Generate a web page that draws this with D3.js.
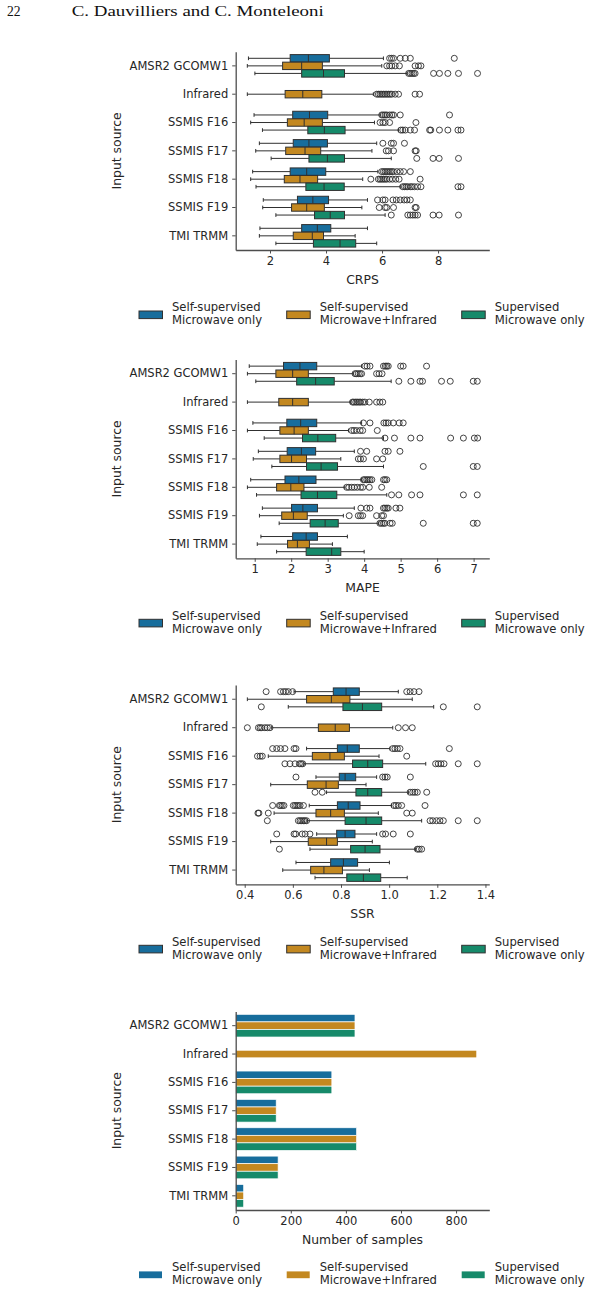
<!DOCTYPE html>
<html><head><meta charset="utf-8">
<script src="https://cdn.jsdelivr.net/npm/d3@7"></script>
<style>body{margin:0;background:#fff}svg{display:block}</style>
</head><body>
<svg id="c" width="592" height="1293"></svg>
<script>
// ---------------- DATA ----------------
const categories = ["AMSR2 GCOMW1","Infrared","SSMIS F16","SSMIS F17","SSMIS F18","SSMIS F19","TMI TRMM"];
const seriesLabels = [["Self-supervised","Microwave only"],["Self-supervised","Microwave+Infrared"],["Supervised","Microwave only"]];
const seriesColors = ["#176d9c","#c38820","#168a6a"];

// box stats per category: [whiskerLow, q1, median, q3, whiskerHigh, outliers]
const crpsSelfMW = [
  [1.23,2.72,3.37,4.12,6.05,[6.27,6.34,6.41,6.65,6.83,7.01,8.58]],
  null,
  [1.43,2.81,3.41,4.06,5.93,[5.99,6.05,6.11,6.17,6.27,6.35,6.41,6.65,8.41]],
  [1.62,2.83,3.39,4.05,5.81,[6.03,6.33,6.41,6.80]],
  [1.38,2.72,3.31,3.99,5.85,[5.99,6.05,6.11,6.17,6.23,6.29,6.35,6.41,6.53,6.65,6.77,7.01]],
  [1.76,2.98,3.53,4.09,5.48,[5.84,6.03,6.11,6.39,6.51,6.65,6.79,6.89,7.01]],
  [1.64,3.13,3.69,4.17,5.48,[]]
];
const crpsSelfMWIR = [
  [1.19,2.45,3.13,3.87,5.99,[6.17,6.27,6.35,6.47,6.62,7.18,7.30,7.39]],
  [1.19,2.54,3.17,3.85,5.69,[5.81,5.87,5.93,5.99,6.05,6.11,6.17,6.23,6.29,6.35,6.47,6.59,7.18,7.34]],
  [1.31,2.62,3.22,3.87,5.73,[5.93,6.03,6.11,6.27,7.21]],
  [1.49,2.56,3.25,3.81,5.64,[6.15,6.23,6.41,7.18,7.22]],
  [1.31,2.51,3.07,3.70,5.31,[5.60,5.87,5.93,5.99,6.05,6.11,6.17,6.27,6.37,6.49,6.61,7.36]],
  [1.74,2.77,3.31,3.94,5.28,[5.90,6.11,6.17,6.41,7.18,7.22]],
  [1.62,2.83,3.51,3.91,5.04,[]]
];
const crpsSupMW = [
  [1.46,3.13,3.91,4.66,6.89,[6.95,7.01,7.07,7.13,7.18,7.84,8.05,8.35,8.73,9.41]],
  null,
  [1.73,3.35,3.94,4.68,6.59,[6.67,6.74,6.83,7.01,7.16,7.70,7.74,8.05,8.35,8.71,8.82]],
  [2.04,3.39,4.05,4.66,6.33,[7.24,7.82,8.04,8.73]],
  [1.50,3.28,3.93,4.65,6.65,[6.74,6.80,6.86,6.92,7.01,7.07,7.16,7.27,7.39,8.71,8.82]],
  [2.21,3.59,4.15,4.66,6.11,[6.33,6.92,7.01,7.10,7.18,7.27,7.82,8.04,8.73]],
  [2.21,3.55,4.50,5.06,5.81,[]]
];

const mapeSelfMW = [
  [0.85,1.79,2.24,2.70,3.93,[4.02,4.08,4.16,4.53,4.58,4.62,4.66,5.00,5.07,5.71]],
  null,
  [0.95,1.88,2.26,2.70,3.93,[3.98,4.16,4.54,4.60,4.66,4.80,4.96,5.07]],
  [1.10,1.89,2.28,2.67,3.73,[3.90,4.07,4.57,4.66,4.98]],
  [0.89,1.83,2.21,2.68,3.93,[3.98,4.02,4.07,4.11,4.16,4.21,4.53,4.57,4.62]],
  [1.21,2.01,2.32,2.72,3.73,[3.91,4.07,4.16,4.53,4.57,4.62,4.66,4.87,4.98]],
  [1.17,2.04,2.41,2.72,3.54,[]]
];
const mapeSelfMWIR = [
  [0.80,1.58,2.04,2.47,3.70,[3.75,3.79,3.84,3.89,3.93,4.34,4.41,4.49]],
  [0.80,1.66,2.04,2.47,3.63,[3.68,3.72,3.77,3.81,3.86,3.90,3.96,4.02,4.14,4.34,4.43,4.51]],
  [0.80,1.69,2.08,2.47,3.57,[3.66,3.72,3.79,3.89,3.96,4.36]],
  [0.96,1.69,2.01,2.42,3.36,[3.84,3.90,3.98,4.34,4.51]],
  [0.80,1.60,1.99,2.35,3.47,[3.52,3.58,3.66,3.73,3.81,3.90,3.96,4.14,4.48]],
  [1.13,1.74,2.06,2.44,3.43,[3.59,3.84,3.90,3.96,4.34,4.48,4.53]],
  [1.07,1.90,2.17,2.50,3.13,[]]
];
const mapeSupMW = [
  [1.03,2.15,2.67,3.18,4.74,[4.95,5.28,5.53,5.60,6.12,6.36,6.99,7.10]],
  null,
  [1.26,2.31,2.73,3.22,4.53,[4.57,4.83,5.28,5.53,6.37,6.72,7.02,7.11]],
  [1.47,2.42,2.82,3.27,4.53,[5.62,6.99,7.10]],
  [1.05,2.27,2.72,3.25,4.62,[4.75,4.95,5.30,5.53,6.72,7.10]],
  [1.67,2.52,2.93,3.29,4.39,[4.43,4.48,4.53,4.57,4.71,4.77,5.62,6.99,7.10]],
  [1.60,2.41,3.11,3.36,4.00,[]]
];

const ssrSelfMW = [
  [0.605,0.768,0.821,0.876,1.038,[0.489,0.549,0.561,0.570,0.581,0.599,1.073,1.087,1.103,1.124]],
  null,
  [0.657,0.785,0.826,0.876,1.003,[0.516,0.533,0.549,0.567,0.605,0.613,1.015,1.024,1.034,1.045,1.250]],
  [0.696,0.793,0.817,0.861,0.948,[0.613,0.973,0.983,0.992,1.088]],
  [0.668,0.785,0.830,0.879,1.010,[0.516,0.544,0.549,0.556,0.563,0.602,0.609,0.616,0.623,0.630,0.644,1.020,1.028,1.038,1.052,1.149]],
  [0.699,0.782,0.817,0.858,0.948,[0.533,0.605,0.612,0.639,0.651,0.671,0.973,0.985,1.017,1.088]],
  [0.613,0.757,0.810,0.869,1.001,[]]
];
const ssrSelfMWIR = [
  [0.411,0.657,0.760,0.837,1.096,[]],
  [0.512,0.706,0.776,0.835,1.015,[0.411,0.457,0.464,0.471,0.484,0.494,0.505,1.038,1.068,1.096]],
  [0.498,0.681,0.754,0.814,0.958,[0.453,0.464,0.473,1.073]],
  [0.508,0.660,0.738,0.789,0.904,[]],
  [0.522,0.696,0.757,0.814,0.955,[0.455,0.459,0.498,1.073,1.096]],
  [0.508,0.664,0.740,0.785,0.930,[]],
  [0.558,0.674,0.729,0.806,0.918,[]]
];
const ssrSupMW = [
  [0.581,0.808,0.889,0.969,1.185,[0.469,1.225,1.366]],
  null,
  [0.646,0.848,0.911,0.973,1.152,[0.567,0.588,0.609,0.627,0.634,0.641,1.193,1.204,1.215,1.228,1.287,1.366]],
  [0.740,0.862,0.911,0.969,1.080,[0.692,0.722,1.087,1.098,1.107,1.117,1.156]],
  [0.660,0.817,0.904,0.969,1.135,[0.494,0.623,0.630,0.637,0.644,0.650,0.657,1.170,1.181,1.197,1.211,1.225,1.287,1.366]],
  [0.671,0.840,0.900,0.962,1.109,[0.544,1.117,1.125,1.135]],
  [0.692,0.824,0.893,0.965,1.075,[]]
];

const samplesSelfMW   = [433, null, 349, 147, 439, 154, 29];
const samplesSelfMWIR = [433, 875,  349, 147, 439, 154, 29];
const samplesSupMW    = [433, null, 349, 147, 439, 154, 29];

const crpsTicks = [2,4,6,8];
const mapeTicks = [1,2,3,4,5,6,7];
const ssrTicks = [0.4,0.6,0.8,1.0,1.2,1.4];
const sampleTicks = [0,200,400,600,800];

// ---------------- DRAWING ----------------
const svg = d3.select("#c");
const FONT = "'DejaVu Sans', sans-serif";
const TXT = "#262626";
const LINE = "#303030";
const SPINE = "#4d4d4d";
const AXL = 235.7, AXR = 489.3;

// header
svg.append("text").attr("x",7).attr("y",16).attr("font-family","'Liberation Serif', serif")
  .attr("font-size",15).attr("fill","#111").attr("textLength",13.6).attr("lengthAdjust","spacingAndGlyphs").text("22");
svg.append("text").attr("x",71.7).attr("y",16).attr("font-family","'Liberation Serif', serif")
  .attr("font-size",15).attr("fill","#111").attr("textLength",252).attr("lengthAdjust","spacingAndGlyphs")
  .text("C. Dauvilliers and C. Monteleoni");

function axes(g, x, y, ticks, fmt, top, bottom, label){
  const ax = g.append("g").attr("transform",`translate(0,${bottom})`)
    .call(d3.axisBottom(x).tickValues(ticks).tickFormat(fmt).tickSize(3.5).tickSizeOuter(0).tickPadding(3));
  const ay = g.append("g").attr("transform",`translate(${AXL},0)`)
    .call(d3.axisLeft(y).tickSize(3.5).tickSizeOuter(0).tickPadding(4));
  [ax,ay].forEach(a=>{
    a.select(".domain").attr("stroke",SPINE).attr("stroke-width",1.3);
    a.selectAll(".tick line").attr("stroke",SPINE).attr("stroke-width",1);
    a.selectAll(".tick text").attr("fill",TXT).attr("font-family",FONT).attr("font-size",11.5);
  });
  ax.selectAll(".tick text").attr("dy","0.75em");
  g.append("text").attr("x",(AXL+AXR)/2).attr("y",bottom+33.5).attr("text-anchor","middle")
    .attr("font-family",FONT).attr("font-size",12.4).attr("fill",TXT).text(label);
  g.append("text").attr("transform",`translate(121,${(top+bottom)/2}) rotate(-90)`).attr("text-anchor","middle")
    .attr("font-family",FONT).attr("font-size",12.4).attr("fill",TXT).text("Input source");
}

function legend(g, bottom, boxStyle){
  const xs = [139, 286.7, 461.7];
  seriesLabels.forEach((lab,i)=>{
    const cy = bottom + 64.8;
    const h = boxStyle ? 7.6 : 6.8;
    g.append("rect").attr("x",xs[i]).attr("y",cy-h/2).attr("width",boxStyle?23.5:23).attr("height",h)
      .attr("fill",seriesColors[i]).attr("stroke",boxStyle?LINE:"none").attr("stroke-width",1);
    const t = g.append("text").attr("font-family",FONT).attr("font-size",11.6).attr("fill",TXT);
    t.append("tspan").attr("x",xs[i]+33).attr("y",bottom+61.3).text(lab[0]);
    t.append("tspan").attr("x",xs[i]+33).attr("y",bottom+74.2).text(lab[1]);
  });
}

function boxPanel(cfg){
  const g = svg.append("g");
  const x = d3.scaleLinear().domain(cfg.domain).range([AXL,AXR]);
  const y = d3.scaleBand().domain(categories).range([cfg.top,cfg.bottom]);
  const step = y.step();
  const hue = d3.scaleBand().domain([0,1,2]).range([-0.4*step,0.4*step]);
  const bh = hue.bandwidth()*0.98;
  cfg.series.forEach((ser,si)=>{
    ser.forEach((s,ci)=>{
      if(!s) return;
      const [lo,q1,med,q3,hi,out] = s;
      const cy = y(categories[ci]) + step/2 + hue(si) + hue.bandwidth()/2;
      const bg = g.append("g");
      bg.append("line").attr("x1",x(lo)).attr("x2",x(q1)).attr("y1",cy).attr("y2",cy).attr("stroke",LINE).attr("stroke-width",1);
      bg.append("line").attr("x1",x(q3)).attr("x2",x(hi)).attr("y1",cy).attr("y2",cy).attr("stroke",LINE).attr("stroke-width",1);
      [lo,hi].forEach(v=>bg.append("line").attr("x1",x(v)).attr("x2",x(v)).attr("y1",cy-bh*0.25).attr("y2",cy+bh*0.25)
        .attr("stroke",LINE).attr("stroke-width",1));
      bg.append("rect").attr("x",x(q1)).attr("y",cy-bh/2).attr("width",x(q3)-x(q1)).attr("height",bh)
        .attr("fill",seriesColors[si]).attr("stroke",LINE).attr("stroke-width",1);
      bg.append("line").attr("x1",x(med)).attr("x2",x(med)).attr("y1",cy-bh/2).attr("y2",cy+bh/2).attr("stroke",LINE).attr("stroke-width",1);
      bg.selectAll("circle.o").data(out).join("circle").attr("class","o").attr("cx",d=>x(d)).attr("cy",cy).attr("r",3)
        .attr("fill","none").attr("stroke",LINE).attr("stroke-width",0.9);
    });
  });
  axes(g,x,y,cfg.ticks,cfg.fmt,cfg.top,cfg.bottom,cfg.label);
  legend(g,cfg.bottom,true);
}

boxPanel({top:51.7,bottom:250,domain:[0.775,9.83],ticks:crpsTicks,fmt:d3.format("d"),label:"CRPS",
  series:[crpsSelfMW,crpsSelfMWIR,crpsSupMW]});
boxPanel({top:359.5,bottom:558.3,domain:[0.479,7.43],ticks:mapeTicks,fmt:d3.format("d"),label:"MAPE",
  series:[mapeSelfMW,mapeSelfMWIR,mapeSupMW]});
boxPanel({top:685,bottom:884.3,domain:[0.3626,1.416],ticks:ssrTicks,fmt:d3.format(".1f"),label:"SSR",
  series:[ssrSelfMW,ssrSelfMWIR,ssrSupMW]});

// bar panel
(function(){
  const top=1011.5, bottom=1210;
  const g = svg.append("g");
  const x = d3.scaleLinear().domain([0,920.6]).range([AXL,AXR]);
  const y = d3.scaleBand().domain(categories).range([top,bottom]);
  const step = y.step();
  const hue = d3.scaleBand().domain([0,1,2]).range([-0.4*step,0.4*step]);
  [samplesSelfMW,samplesSelfMWIR,samplesSupMW].forEach((ser,si)=>{
    g.selectAll(null).data(ser.map((v,ci)=>({v,c:categories[ci]})).filter(d=>d.v!=null)).join("rect")
      .attr("x",x(0)).attr("y",d=>y(d.c)+step/2+hue(si))
      .attr("width",d=>x(d.v)-x(0)).attr("height",hue.bandwidth())
      .attr("fill",seriesColors[si]).attr("stroke","#fff").attr("stroke-width",0.7);
  });
  axes(g,x,y,sampleTicks,d3.format("d"),top,bottom,"Number of samples");
  legend(g,bottom,false);
})();
</script>
</body></html>
